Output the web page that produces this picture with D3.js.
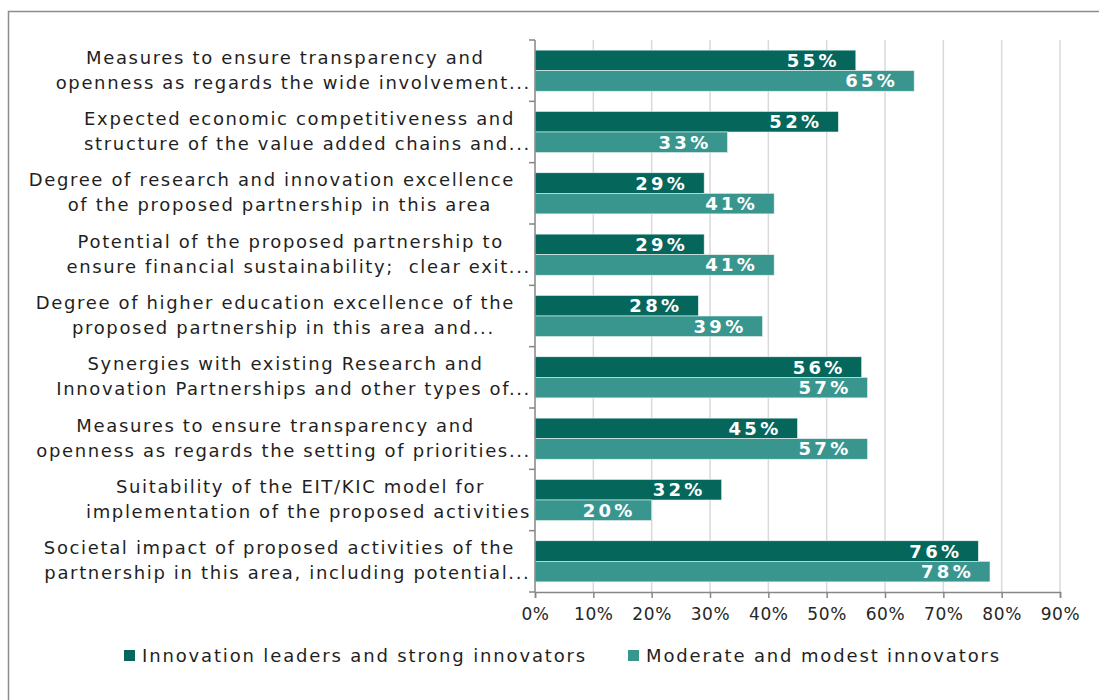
<!DOCTYPE html>
<html>
<head>
<meta charset="utf-8">
<script src="https://cdn.jsdelivr.net/npm/d3@7"></script>
<style>
  body { margin: 0; background: #ffffff; }
  text { font-family: "DejaVu Sans", Verdana, sans-serif; }
</style>
</head>
<body>
<div id="chart"></div>
<script>
// categories, two lines each (as they appear in the chart)
var categories = [
    ['Measures to ensure transparency and', 'openness as regards the wide involvement...'],
    ['Expected economic competitiveness and', 'structure of the value added chains and...'],
    ['Degree of research and innovation excellence', 'of the proposed partnership in this area'],
    ['Potential of the proposed partnership to', 'ensure financial sustainability;  clear exit...'],
    ['Degree of higher education excellence of the', 'proposed partnership in this area and...'],
    ['Synergies with existing Research and', 'Innovation Partnerships and other types of...'],
    ['Measures to ensure transparency and', 'openness as regards the setting of priorities...'],
    ['Suitability of the EIT/KIC model for', 'implementation of the proposed activities'],
    ['Societal impact of proposed activities of the', 'partnership in this area, including potential...']
];
var series_names = ['Innovation leaders and strong innovators', 'Moderate and modest innovators'];
var leaders = [0.55, 0.52, 0.29, 0.29, 0.28, 0.56, 0.45, 0.32, 0.76];
var moderate = [0.65, 0.33, 0.41, 0.41, 0.39, 0.57, 0.57, 0.20, 0.78];
var x_ticks = [0, 0.1, 0.2, 0.3, 0.4, 0.5, 0.6, 0.7, 0.8, 0.9];
var colors = ['#05665b', '#38968e'];

var chart_width = 1099;
var chart_height = 700;
var plot_left = 535, plot_right = 1060, plot_top = 40, plot_bottom = 592;

var svg = d3.select('#chart')
    .append('svg')
    .attr('width', chart_width)
    .attr('height', chart_height);

// outer frame (runs off the right and bottom edges)
svg.append('rect')
    .attr('x', 8.5).attr('y', 11.5)
    .attr('width', 1200).attr('height', 800)
    .attr('fill', 'none')
    .attr('stroke', '#8c8c8c')
    .attr('stroke-width', 1.5);

var x_scale = d3.scaleLinear()
    .domain([0, 0.9])
    .range([plot_left, plot_right]);

var y_scale = d3.scaleBand()
    .domain(d3.range(categories.length))
    .range([plot_top, plot_bottom])
    .paddingInner(0.33)
    .paddingOuter(0.165);

var sub_scale = d3.scaleBand()
    .domain([0, 1])
    .range([0, y_scale.bandwidth()]);

// gridlines
svg.append('g')
    .selectAll('line')
    .data(x_ticks.slice(1))
    .enter()
    .append('line')
    .attr('x1', function (d) { return x_scale(d); })
    .attr('x2', function (d) { return x_scale(d); })
    .attr('y1', plot_top)
    .attr('y2', plot_bottom)
    .attr('stroke', '#d9d9d9')
    .attr('stroke-width', 1.5);

// bars
var rows = d3.range(categories.length).map(function (i) {
    return [leaders[i], moderate[i]];
});

var groups = svg.append('g')
    .selectAll('g')
    .data(rows)
    .enter()
    .append('g')
    .attr('transform', function (d, i) { return 'translate(0,' + y_scale(i) + ')'; });

groups.selectAll('rect')
    .data(function (d) { return d; })
    .enter()
    .append('rect')
    .attr('x', x_scale(0))
    .attr('y', function (d, j) { return sub_scale(j); })
    .attr('width', function (d) { return x_scale(d) - x_scale(0); })
    .attr('height', sub_scale.bandwidth())
    .attr('fill', function (d, j) { return colors[j]; })
    .attr('stroke', '#e8f2f1')
    .attr('stroke-width', 0.6);

// value labels inside bar ends
groups.selectAll('text')
    .data(function (d) { return d; })
    .enter()
    .append('text')
    .text(function (d) { return Math.round(d * 100) + '%'; })
    .attr('x', function (d) { return x_scale(d) - 16; })
    .attr('y', function (d, j) { return sub_scale(j) + sub_scale.bandwidth() / 2 + 6.5; })
    .attr('text-anchor', 'end')
    .attr('font-size', 18)
    .attr('font-weight', 'bold')
    .attr('letter-spacing', 3.3)
    .attr('fill', '#ffffff');

// axes
var y_axis = svg.append('g');
y_axis.append('line')
    .attr('x1', plot_left).attr('x2', plot_left)
    .attr('y1', plot_top).attr('y2', plot_bottom)
    .attr('stroke', '#868686').attr('stroke-width', 1.5);
y_axis.selectAll('line.tick')
    .data(d3.range(categories.length + 1))
    .enter()
    .append('line')
    .attr('class', 'tick')
    .attr('x1', plot_left - 6).attr('x2', plot_left)
    .attr('y1', function (i) { return plot_top + i * y_scale.step(); })
    .attr('y2', function (i) { return plot_top + i * y_scale.step(); })
    .attr('stroke', '#868686').attr('stroke-width', 1.5);

var x_axis = svg.append('g')
    .attr('transform', 'translate(0,' + plot_bottom + ')')
    .call(d3.axisBottom(x_scale)
        .tickValues(x_ticks)
        .tickFormat(d3.format('.0%'))
        .tickSize(6)
        .tickPadding(10));
x_axis.select('.domain').attr('stroke', '#868686').attr('stroke-width', 1.5);
x_axis.selectAll('.tick line').attr('stroke', '#868686').attr('stroke-width', 1.5);
x_axis.selectAll('.tick text')
    .attr('font-family', '"DejaVu Sans", Verdana, sans-serif')
    .attr('font-size', 17)
    .attr('letter-spacing', 0.6)
    .attr('fill', '#262626');

// category labels: lines centred within a block that is right-aligned
// (the first line carries a trailing space, which nudges it left)
var label_right = 531;
var trail = 16;
categories.forEach(function (lines, i) {
    var cy = y_scale(i) + y_scale.bandwidth() / 2;
    var g = svg.append('g');
    var texts = lines.map(function (s, k) {
        return g.append('text')
            .text(s)
            .attr('y', cy + (k === 0 ? -7 : 18))
            .attr('text-anchor', 'middle')
            .attr('font-size', 18)
            .attr('letter-spacing', 1.65)
            .style('white-space', 'pre')
            .attr('fill', '#1f1f1f');
    });
    var w1 = texts[0].node().getComputedTextLength() + trail;
    var w2 = texts[1].node().getComputedTextLength();
    var w = Math.max(w1, w2);
    texts[0].attr('x', label_right - w / 2 - trail / 2);
    texts[1].attr('x', label_right - w / 2);
});

// legend
var legend_x = [124, 628];
var legend = svg.append('g')
    .selectAll('g')
    .data(series_names)
    .enter()
    .append('g')
    .attr('transform', function (d, i) { return 'translate(' + legend_x[i] + ',650)'; });
legend.append('rect')
    .attr('width', 11).attr('height', 11)
    .attr('fill', function (d, i) { return colors[i]; });
legend.append('text')
    .text(function (d) { return d; })
    .attr('x', 18)
    .attr('y', 12)
    .attr('font-size', 18)
    .attr('letter-spacing', 1.85)
    .attr('fill', '#1f1f1f');
</script>
</body>
</html>
